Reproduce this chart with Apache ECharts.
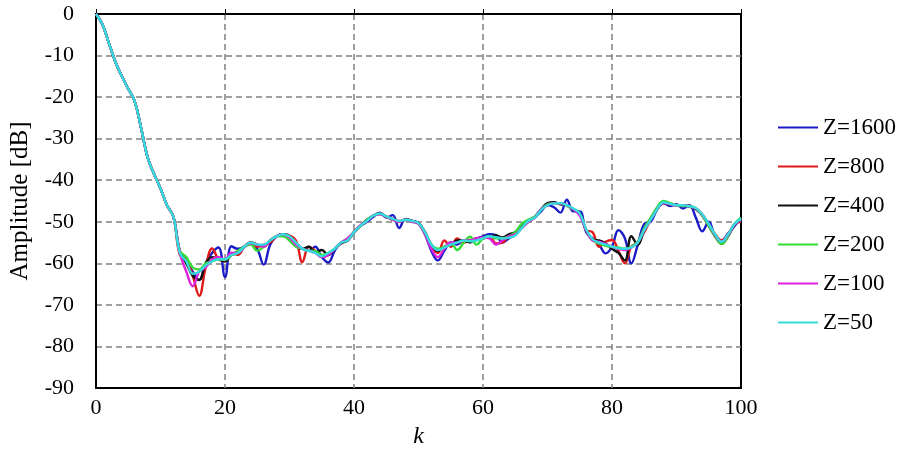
<!DOCTYPE html>
<html>
<head>
<meta charset="utf-8">
<script src="https://cdn.jsdelivr.net/npm/echarts@6/dist/echarts.min.js"></script>
<style>
html,body{margin:0;padding:0;background:#fff;}
#chart{width:900px;height:454px;}
</style>
</head>
<body>
<div id="chart"></div>
<script>
// k = 0..12, all curves overlap here
var head = [0, -2.5, -7, -11.5, -15, -18, -21, -27.5, -34.5, -38.5, -42, -46, -48.8];
// k = 13..100
var z1600 = [-57.5, -59.5, -62, -64, -60, -57.5, -56.2, -63.3, -55.9, -56.5, -56, -55, -56.5, -60.3, -55.5, -53.5, -53, -53.5, -55, -56.5,
	-57, -56, -58.5, -59.8, -57, -55, -54.5, -52.5, -51, -50, -48.8, -47.8, -49, -48.4, -51.5, -49.3, -49.8, -50.3, -53, -57,
	-59.3, -57, -55, -55.5, -54.5, -54.5, -54, -53.5, -53, -53.2, -55, -54, -53, -51.5, -50, -49, -47.5, -46, -46.5, -47.8,
	-44.7, -47.5, -47.5, -52.5, -54, -55.5, -57.6, -56, -52, -54, -60, -55.5, -50.5, -50, -47, -45.5, -46.2, -45.8, -46.8, -46,
	-49, -52.3, -50, -53.5, -54.5, -52.8, -51, -49];
var z800 = [-58, -59, -63, -67.8, -61, -56.4, -59, -59.5, -57.5, -58, -56, -55, -56, -55.5, -55, -53.5, -53, -53.3, -54.5, -59.7,
	-56, -57, -58.5, -58, -56.5, -55, -54.5, -52.5, -51, -49.8, -48.5, -48, -48.7, -49.3, -49.8, -49.5, -49.8, -50.3, -52.5, -56,
	-57.5, -54.5, -56, -54, -55, -54.5, -54, -54, -53.5, -55.2, -55, -53.5, -53, -51.5, -50, -49, -47, -46, -45.5, -45.5,
	-46, -47, -48, -52, -52.5, -56, -54.8, -54.4, -57, -60, -56, -55, -52.5, -49.5, -47, -45.5, -45.8, -46, -46, -46.3,
	-46.8, -48.2, -50.8, -53, -54.5, -53, -50.5, -50];
var z400 = [-57, -60, -63, -64, -60, -58.5, -59, -59.5, -58, -57.5, -56, -55, -55.5, -56, -54.5, -53.5, -53, -53.5, -55.5, -56.5,
	-56, -57.3, -56.8, -58, -56.5, -55.2, -54.5, -52.5, -51, -49.5, -48.5, -48, -48.8, -49.5, -50, -49.5, -49.8, -50.3, -52.5, -55.5,
	-57, -56, -55.5, -54.5, -54.5, -55, -54, -54, -53.5, -53.3, -53.8, -53, -52.5, -51, -49.8, -48.8, -47, -45.5, -45.3, -45.8,
	-46, -47, -48, -52, -54.3, -54.5, -55.2, -56.5, -57.5, -59.3, -53.5, -55.5, -52, -49.5, -47, -45.5, -45.8, -46, -46, -46.3,
	-47, -48.5, -51, -53.5, -55.3, -53.5, -50.8, -49.5];
var z200 = [-57, -58.5, -61, -61.5, -60, -59.5, -59, -59.2, -58, -57, -56, -55.5, -57, -56, -54.5, -53.5, -53.5, -54.5, -56, -56.5,
	-57, -57, -58, -57.5, -56.5, -55, -54, -52.5, -51, -49.5, -48.5, -48.2, -48.8, -49.5, -50, -49.5, -50, -50.5, -53, -55.5,
	-56.5, -56, -55, -56.8, -55, -53.6, -55.5, -54, -53.5, -54, -54, -53.5, -52.5, -50.5, -49.5, -48.8, -47, -45.8, -45.5, -45.5,
	-46.2, -47, -48.2, -52, -54.5, -55.2, -55.8, -56, -56.2, -56.5, -56, -54.8, -51.5, -49, -46.5, -45, -45.5, -46, -46.2, -46.2,
	-46.8, -48.5, -51, -53.5, -55.3, -53.5, -50.5, -49];
var z100 = [-57.5, -62, -65.5, -62, -61, -59, -58.5, -59, -57.5, -57.5, -56, -55.2, -55.5, -56, -54.5, -53.5, -53, -53.8, -55.5, -56.5,
	-57, -57.5, -58.5, -58, -56.5, -55, -54, -52.5, -50.8, -49.8, -48.5, -48.2, -48.8, -49.5, -50, -49.5, -50, -50.5, -53, -56.5,
	-58.5, -56.5, -55, -55, -54.5, -54.5, -54, -53.8, -54, -55.5, -54.5, -53.5, -53, -51.5, -50, -49, -47, -46, -45.5, -45.6,
	-46, -47, -48.5, -52, -54.5, -54.8, -55.3, -56, -56.5, -56.8, -56.2, -55, -52, -49.5, -47, -45.5, -45.8, -46, -46, -46.3,
	-46.8, -48.3, -50.5, -53.2, -54.8, -53.2, -50.7, -49.5];
var z50 = [-57.5, -59.5, -62.5, -62, -60.5, -59.5, -59, -59, -58, -57.5, -56, -55, -55.5, -55.5, -54.5, -53.5, -53, -53.5, -55, -56.5,
	-57, -57.5, -58.3, -57.5, -56.5, -55, -54.5, -52.5, -51, -49.8, -48.5, -48, -48.7, -49.3, -49.8, -49.5, -49.8, -50.3, -52.5, -55.5,
	-56.8, -56.2, -55.5, -55, -54.5, -54.7, -54.5, -54, -53.5, -53.7, -54, -53.8, -53.3, -51.5, -49.8, -49, -47.2, -46, -45.6, -45.5,
	-46, -46.8, -48, -51.8, -54.2, -55, -55.5, -56, -56.4, -56.5, -56.2, -55, -52, -49.5, -47, -45.3, -45.7, -46, -46, -46.3,
	-46.7, -48.2, -50.5, -53, -54.8, -53, -50.5, -49.3];

var names = ['Z=1600', 'Z=800', 'Z=400', 'Z=200', 'Z=100', 'Z=50'];
var colors = ['#1a1ac8', '#e01818', '#111111', '#33dd33', '#dd22dd', '#33dddd'];
var tails = [z1600, z800, z400, z200, z100, z50];
var xTicks = [0, 20, 40, 60, 80, 100];

function toPoints(tail){
	var ys = head.concat(tail);
	var pts = [];
	for (var i = 0; i < ys.length; i++) {
		pts.push([i, ys[i]]);
	}
	return pts;
}

var myChart = echarts.init(document.getElementById('chart'));
var series = [];
for (var i = 0; i < names.length; i++) {
	series.push({
		name: names[i],
		type: 'line',
		data: toPoints(tails[i]),
		smooth: 0.4,
		symbol: 'none',
		lineStyle: {color: colors[i], width: 2.4},
		itemStyle: {color: colors[i]},
		animation: false
	});
}
var serif = '"Liberation Serif", "Times New Roman", serif';
var grid = {color: '#808080', width: 1.5, type: [6, 4]};
var option = {
	backgroundColor: '#fff',
	animation: false,
	grid: {
		left: 96, right: 159, top: 14, bottom: 66,
		show: true, borderColor: '#000', borderWidth: 2
	},
	legend: {
		orient: 'vertical',
		left: 772,
		top: 111,
		itemWidth: 40,
		itemHeight: 2,
		itemGap: 16,
		data: names,
		textStyle: {fontFamily: serif, fontSize: 23, color: '#000'}
	},
	xAxis: {
		type: 'value',
		min: 0, max: 100, interval: 20,
		name: 'k',
		nameLocation: 'middle',
		nameGap: 37,
		nameTextStyle: {fontFamily: serif, fontSize: 24, fontStyle: 'italic', color: '#000'},
		axisLine: {lineStyle: {color: '#000', width: 2}},
		axisTick: {show: true, inside: true, length: 5, lineStyle: {color: '#000'}},
		axisLabel: {
			margin: 9, fontFamily: serif, fontSize: 22, color: '#000',
			formatter: function(v){ return xTicks.indexOf(v) >= 0 ? String(v) : ''; }
		},
		splitLine: {show: true, showMinLine: false, showMaxLine: false, lineStyle: grid}
	},
	yAxis: {
		type: 'value',
		min: -90, max: 0, interval: 10,
		name: 'Amplitude [dB]',
		nameLocation: 'middle',
		nameGap: 63,
		nameTextStyle: {fontFamily: serif, fontSize: 25, color: '#000'},
		axisLine: {lineStyle: {color: '#000', width: 2}},
		axisTick: {show: false},
		axisLabel: {margin: 22, fontFamily: serif, fontSize: 22, color: '#000'},
		splitLine: {show: true, showMinLine: false, showMaxLine: false, lineStyle: grid}
	},
	series: series
};
myChart.setOption(option);
</script>
</body>
</html>
